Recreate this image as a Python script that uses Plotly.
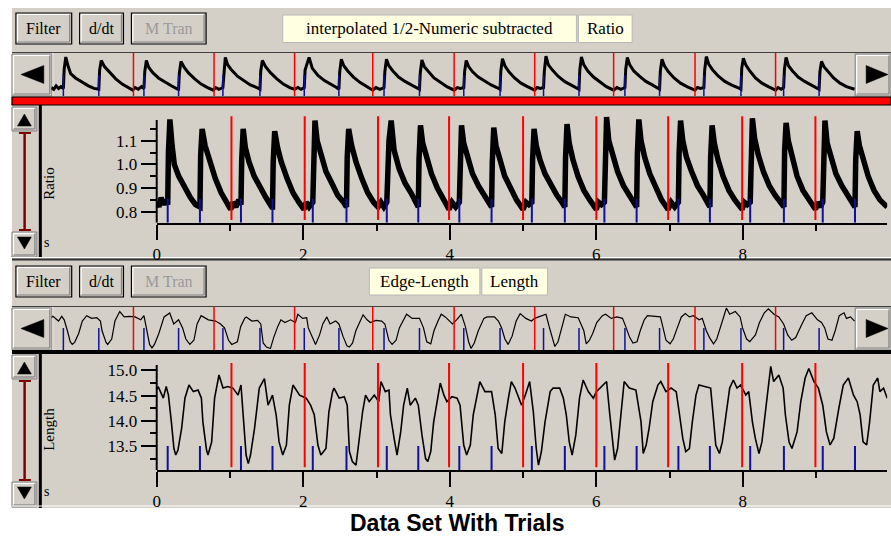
import plotly.graph_objects as go

W, H = 891, 539

# trial boundaries (red) and stimulus markers (blue), seconds
trial_starts = [1.02, 2.02, 3.02, 3.99, 5.00, 6.00, 6.98, 7.99, 8.99]
stim_times = [0.15, 0.59, 1.15, 1.58, 2.13, 2.59, 3.14, 3.57, 4.13, 4.57,
              5.12, 5.57, 6.11, 6.55, 7.12, 7.55, 8.10, 8.56, 9.09, 9.53]

# Ratio trace (interpolated 1/2-Numeric subtracted)
ratio_t = [
    0.00, 0.03, 0.06, 0.09, 0.12, 0.15,
    0.16, 0.18, 0.21, 0.24, 0.30, 0.38, 0.46, 0.53, 0.58,
    0.59, 0.60, 0.62, 0.66, 0.72, 0.80, 0.88, 0.95, 1.01,
    1.04, 1.08, 1.12, 1.15,
    1.16, 1.18, 1.21, 1.26, 1.33, 1.41, 1.49, 1.57,
    1.58, 1.59, 1.61, 1.65, 1.70, 1.78, 1.86, 1.94, 2.01,
    2.04, 2.08, 2.13,
    2.14, 2.16, 2.19, 2.23, 2.31, 2.39, 2.47, 2.55, 2.58,
    2.59, 2.60, 2.62, 2.66, 2.72, 2.80, 2.88, 2.96, 3.02,
    3.06, 3.10, 3.14,
    3.15, 3.17, 3.20, 3.24, 3.31, 3.39, 3.47, 3.54, 3.57,
    3.58, 3.60, 3.63, 3.68, 3.75, 3.83, 3.91, 3.99,
    4.03, 4.08, 4.13,
    4.14, 4.16, 4.19, 4.24, 4.31, 4.39, 4.47, 4.54, 4.57,
    4.58, 4.60, 4.63, 4.68, 4.75, 4.83, 4.91, 5.00,
    5.04, 5.08, 5.12,
    5.13, 5.15, 5.18, 5.23, 5.30, 5.38, 5.46, 5.53, 5.57,
    5.58, 5.60, 5.63, 5.68, 5.75, 5.83, 5.91, 6.00,
    6.03, 6.07, 6.11,
    6.12, 6.14, 6.17, 6.22, 6.29, 6.37, 6.45, 6.52, 6.55,
    6.56, 6.58, 6.61, 6.66, 6.73, 6.81, 6.89, 6.98,
    7.02, 7.07, 7.12,
    7.13, 7.15, 7.18, 7.23, 7.30, 7.38, 7.46, 7.52, 7.55,
    7.56, 7.58, 7.61, 7.66, 7.73, 7.81, 7.89, 7.99,
    8.02, 8.06, 8.10,
    8.11, 8.13, 8.16, 8.21, 8.28, 8.36, 8.44, 8.52, 8.56,
    8.57, 8.59, 8.62, 8.67, 8.74, 8.82, 8.90, 8.99,
    9.02, 9.06, 9.09,
    9.10, 9.12, 9.15, 9.20, 9.27, 9.35, 9.43, 9.50, 9.53,
    9.54, 9.56, 9.59, 9.64, 9.71, 9.79, 9.87, 9.97,
]
ratio_v = [
    0.84, 0.82, 0.86, 0.83, 0.85, 0.83,
    1.05, 1.19, 1.08, 1.00, 0.95, 0.90, 0.86, 0.83, 0.82,
    0.82, 1.04, 1.15, 1.08, 1.02, 0.94, 0.88, 0.84, 0.81,
    0.84, 0.82, 0.85, 0.83,
    1.02, 1.15, 1.07, 1.01, 0.95, 0.90, 0.86, 0.82,
    0.82, 1.01, 1.14, 1.07, 1.01, 0.94, 0.88, 0.84, 0.81,
    0.84, 0.82, 0.84,
    1.00, 1.185, 1.10, 1.05, 0.97, 0.92, 0.87, 0.84, 0.82,
    0.82, 1.03, 1.15, 1.08, 1.01, 0.94, 0.88, 0.84, 0.82,
    0.84, 0.82, 0.84,
    1.04, 1.10, 1.185, 1.06, 0.98, 0.92, 0.88, 0.84, 0.82,
    1.02, 1.165, 1.09, 1.03, 0.96, 0.90, 0.85, 0.81,
    0.84, 0.82, 0.84,
    1.02, 1.165, 1.09, 1.03, 0.96, 0.91, 0.87, 0.84, 0.82,
    1.01, 1.155, 1.08, 1.02, 0.95, 0.90, 0.85, 0.81,
    0.84, 0.83, 0.84,
    1.02, 1.15, 1.08, 1.02, 0.96, 0.91, 0.87, 0.84, 0.82,
    1.03, 1.17, 1.09, 1.02, 0.95, 0.89, 0.85, 0.81,
    0.84, 0.83, 0.84,
    1.03, 1.20, 1.10, 1.04, 0.97, 0.91, 0.87, 0.84, 0.82,
    1.04, 1.19, 1.10, 1.03, 0.96, 0.90, 0.85, 0.81,
    0.84, 0.82, 0.84,
    1.05, 1.185, 1.10, 1.03, 0.97, 0.91, 0.87, 0.84, 0.82,
    1.03, 1.165, 1.09, 1.02, 0.95, 0.89, 0.85, 0.81,
    0.84, 0.83, 0.84,
    1.04, 1.195, 1.11, 1.04, 0.97, 0.91, 0.87, 0.84, 0.82,
    1.06, 1.175, 1.10, 1.03, 0.95, 0.89, 0.85, 0.81,
    0.84, 0.82, 0.84,
    1.05, 1.185, 1.09, 1.03, 0.96, 0.91, 0.87, 0.84, 0.82,
    1.02, 1.14, 1.08, 1.02, 0.95, 0.89, 0.85, 0.82,
]

# Length trace (Edge-Length)
length_t = [
    0.00, 0.02, 0.06, 0.09, 0.13, 0.16, 0.20, 0.235, 0.26, 0.29, 0.34, 0.385,
    0.44, 0.50, 0.565, 0.61, 0.63, 0.68, 0.70, 0.75, 0.79, 0.85, 0.905, 0.97,
    1.04, 1.11, 1.15, 1.19, 1.22, 1.25, 1.28, 1.335, 1.40, 1.47, 1.52, 1.58,
    1.63, 1.67, 1.72, 1.77, 1.81, 1.86, 1.95, 2.04, 2.10, 2.15, 2.20, 2.24,
    2.31, 2.35, 2.40, 2.42, 2.49, 2.56, 2.60, 2.63, 2.67, 2.72, 2.76, 2.81,
    2.85, 2.90, 2.97, 3.03, 3.06, 3.12, 3.17, 3.19, 3.24, 3.28, 3.33, 3.37,
    3.42, 3.46, 3.53, 3.57, 3.62, 3.67, 3.70, 3.74, 3.78, 3.83, 3.87, 3.92,
    3.96, 4.03, 4.10, 4.14, 4.19, 4.23, 4.28, 4.32, 4.37, 4.41, 4.48, 4.57,
    4.62, 4.66, 4.71, 4.75, 4.80, 4.84, 4.89, 4.94, 4.98, 5.03, 5.09, 5.14,
    5.18, 5.21, 5.25, 5.30, 5.37, 5.41, 5.50, 5.55, 5.59, 5.63, 5.67, 5.72,
    5.77, 5.82, 5.89, 5.96, 6.00, 6.05, 6.14, 6.18, 6.23, 6.25, 6.29, 6.34,
    6.38, 6.45, 6.54, 6.61, 6.64, 6.68, 6.72, 6.77, 6.84, 6.88, 6.95, 7.02,
    7.09, 7.13, 7.18, 7.22, 7.27, 7.31, 7.36, 7.40, 7.49, 7.56, 7.59, 7.63,
    7.68, 7.72, 7.77, 7.82, 7.87, 7.92, 7.97, 8.04, 8.08, 8.13, 8.17, 8.22,
    8.26, 8.32, 8.38, 8.42, 8.49, 8.55, 8.58, 8.63, 8.67, 8.74, 8.79, 8.85,
    8.90, 8.97, 9.03, 9.09, 9.14, 9.19, 9.24, 9.31, 9.37, 9.44, 9.51, 9.56,
    9.60, 9.64, 9.69, 9.73, 9.78, 9.84, 9.87, 9.92, 9.97,
]
length_v = [
    14.62, 14.68, 14.55, 14.45, 14.68, 14.51, 13.98, 13.45, 13.32, 13.42, 13.85, 14.45,
    14.71, 14.58, 14.61, 14.45, 13.98, 13.42, 13.32, 13.58, 14.45, 14.91, 14.65, 14.68,
    14.65, 14.51, 14.71, 13.98, 13.32, 13.15, 13.32, 13.85, 14.65, 14.84, 14.31, 14.51,
    14.12, 13.58, 13.32, 13.52, 14.31, 14.71, 14.51, 14.45, 14.31, 14.12, 13.52, 13.32,
    13.45, 14.18, 14.58, 14.65, 14.45, 14.48, 14.31, 13.39, 13.19, 13.12, 13.65, 14.18,
    14.51, 14.38, 14.51, 14.38, 14.78, 14.58, 14.61, 14.12, 13.65, 13.32, 13.78, 14.31,
    14.65, 14.31, 14.45, 14.31, 13.72, 13.25, 13.19, 13.39, 13.98, 14.38, 14.75, 14.51,
    14.38, 14.48, 14.45, 14.31, 13.52, 13.32, 13.52, 14.12, 14.51, 14.78, 14.58, 14.58,
    14.12, 13.45, 13.35, 13.98, 14.45, 14.78, 14.65, 14.45, 14.31, 14.51, 14.78, 14.18,
    13.45, 13.12, 13.39, 13.98, 14.58, 14.65, 14.65, 14.45, 14.12, 13.58, 13.32, 13.72,
    14.45, 14.81, 14.58, 14.45, 14.58, 14.65, 14.78, 14.18, 13.45, 13.22, 13.45, 14.12,
    14.78, 14.65, 14.61, 13.98, 13.35, 13.52, 13.85, 14.38, 14.71, 14.78, 14.58, 14.65,
    14.58, 14.18, 13.65, 13.39, 13.45, 13.98, 14.51, 14.71, 14.68, 14.65, 14.18, 13.52,
    13.35, 13.58, 14.12, 14.65, 14.81, 14.65, 14.71, 14.51, 14.58, 13.98, 13.65, 13.35,
    13.58, 14.31, 15.08, 14.78, 14.91, 14.65, 14.12, 13.58, 13.45, 13.78, 14.38, 14.85,
    15.04, 14.78, 14.65, 14.31, 13.78, 13.52, 13.65, 14.25, 14.71, 14.85, 14.51, 14.38,
    14.12, 13.58, 13.52, 13.98, 14.71, 14.85, 14.58, 14.65, 14.45,
]

ratio_ticks = [0.8, 0.9, 1.0, 1.1]
ratio_ticktext = ["0.8", "0.9", "1.0", "1.1"]
length_ticks = [13.5, 14.0, 14.5, 15.0]
length_ticktext = ["13.5", "14.0", "14.5", "15.0"]
time_ticks = [0, 2, 4, 6, 8]

GRAY = "#d4d0c8"
DARK = "#808080"
BLUE = "#10109a"
RED = "#ff0000"
SERIF = "Liberation Serif"


def X(px):
    return px / W


def Y(py):
    return 1 - py / H


def segments(times, y0, y1):
    xs, ys = [], []
    for t in times:
        xs += [t, t, None]
        ys += [y0, y1, None]
    return xs, ys


fig = go.Figure()

# main plots
fig.add_trace(go.Scatter(x=ratio_t, y=ratio_v, mode="lines",
                         line=dict(color="black", width=5.5), xaxis="x", yaxis="y"))
bx, by = segments(stim_times, 0.7535, 0.855)
fig.add_trace(go.Scatter(x=bx, y=by, mode="lines", line=dict(color=BLUE, width=2),
                         xaxis="x", yaxis="y"))
rx, ry = segments(trial_starts, 0.765, 1.203)
fig.add_trace(go.Scatter(x=rx, y=ry, mode="lines", line=dict(color=RED, width=2),
                         xaxis="x", yaxis="y"))

fig.add_trace(go.Scatter(x=length_t, y=length_v, mode="lines",
                         line=dict(color="black", width=1.6), xaxis="x2", yaxis="y2"))
bx, by = segments(stim_times, 13.023, 13.5)
fig.add_trace(go.Scatter(x=bx, y=by, mode="lines", line=dict(color=BLUE, width=2),
                         xaxis="x2", yaxis="y2"))
rx, ry = segments(trial_starts, 13.08, 15.15)
fig.add_trace(go.Scatter(x=rx, y=ry, mode="lines", line=dict(color=RED, width=2),
                         xaxis="x2", yaxis="y2"))

# overview strips
fig.add_trace(go.Scatter(x=ratio_t, y=ratio_v, mode="lines",
                         line=dict(color="black", width=3), xaxis="x3", yaxis="y3"))
bx, by = segments(stim_times, 0.743, 0.98)
fig.add_trace(go.Scatter(x=bx, y=by, mode="lines", line=dict(color=BLUE, width=1.5),
                         xaxis="x3", yaxis="y3"))
rx, ry = segments(trial_starts, 0.743, 1.236)
fig.add_trace(go.Scatter(x=rx, y=ry, mode="lines", line=dict(color=RED, width=1.5),
                         xaxis="x3", yaxis="y3"))

fig.add_trace(go.Scatter(x=length_t, y=length_v, mode="lines",
                         line=dict(color="black", width=1.2), xaxis="x4", yaxis="y4"))
bx, by = segments(stim_times, 13.05, 14.12)
fig.add_trace(go.Scatter(x=bx, y=by, mode="lines", line=dict(color=BLUE, width=1.5),
                         xaxis="x4", yaxis="y4"))
rx, ry = segments(trial_starts, 13.05, 15.13)
fig.add_trace(go.Scatter(x=rx, y=ry, mode="lines", line=dict(color=RED, width=1.5),
                         xaxis="x4", yaxis="y4"))

tickfont = dict(family=SERIF, size=17, color="black")
xcommon = dict(range=[0, 9.97], domain=[X(153.4), X(887.2)], showgrid=False, zeroline=False,
               showline=True, linecolor="black", linewidth=2, ticks="outside", ticklen=15,
               tickwidth=1.5, tickcolor="black", tickvals=time_ticks, tickfont=tickfont,
               minor=dict(tickvals=[1, 3, 5, 7, 9], ticks="outside", ticklen=6,
                          tickwidth=1.5, tickcolor="black", showgrid=False))
ycommon = dict(showgrid=False, zeroline=False, showline=False, ticks="outside", ticklen=15,
               tickwidth=1.5, tickcolor="black", tickfont=tickfont)

fig.update_layout(
    width=W, height=H, margin=dict(l=0, r=0, t=0, b=0),
    paper_bgcolor="white", plot_bgcolor="rgba(0,0,0,0)", showlegend=False,
    xaxis=dict(anchor="y", **xcommon),
    yaxis=dict(anchor="x", range=[0.7535, 1.215], domain=[Y(222.7), Y(113.5)],
               tickvals=ratio_ticks, ticktext=ratio_ticktext,
               minor=dict(tickvals=[0.85, 0.95, 1.05, 1.15], ticks="outside", ticklen=6,
                          tickwidth=1.5, tickcolor="black", showgrid=False),
               **ycommon),
    xaxis2=dict(anchor="y2", **xcommon),
    yaxis2=dict(anchor="x2", range=[13.023, 15.17], domain=[Y(470), Y(361.9)],
                tickvals=length_ticks, ticktext=length_ticktext,
                minor=dict(tickvals=[13.25, 13.75, 14.25, 14.75], ticks="outside", ticklen=6,
                           tickwidth=1.5, tickcolor="black", showgrid=False),
                **ycommon),
    xaxis3=dict(anchor="y3", range=[0, 10], domain=[X(47.5), X(856.8)], visible=False),
    yaxis3=dict(anchor="x3", range=[0.743, 1.236], domain=[Y(96), Y(53)], visible=False),
    xaxis4=dict(anchor="y4", range=[0, 10], domain=[X(47.5), X(856.8)], visible=False),
    yaxis4=dict(anchor="x4", range=[13.05, 15.13], domain=[Y(350), Y(307)], visible=False),
)

shapes = []


def rect(x0, y0, x1, y1, fill, line="rgba(0,0,0,0)", lw=0, layer="below"):
    shapes.append(dict(type="rect", xref="paper", yref="paper", x0=X(x0), x1=X(x1),
                       y0=Y(y0), y1=Y(y1), fillcolor=fill, line=dict(color=line, width=lw),
                       layer=layer))


def line(x0, y0, x1, y1, color, lw, layer="below"):
    shapes.append(dict(type="line", xref="paper", yref="paper", x0=X(x0), x1=X(x1),
                       y0=Y(y0), y1=Y(y1), line=dict(color=color, width=lw), layer=layer))


def tri(pts, color="black"):
    d = "M " + " L ".join(f"{X(a):.5f},{Y(b):.5f}" for a, b in pts) + " Z"
    shapes.append(dict(type="path", xref="paper", yref="paper", path=d, fillcolor=color,
                       line=dict(color=color, width=0.5), layer="above"))


def raised(x0, y0, x1, y1, border=True):
    rect(x0, y0, x1, y1, GRAY, "black" if border else DARK, 1.2 if border else 1)
    line(x0 + 1.5, y0 + 1.5, x1 - 2, y0 + 1.5, "white", 1.2)
    line(x0 + 1.5, y0 + 1.5, x0 + 1.5, y1 - 2, "white", 1.2)
    line(x0 + 1.5, y1 - 2, x1 - 2, y1 - 2, DARK, 1.2)
    line(x1 - 2, y0 + 1.5, x1 - 2, y1 - 2, DARK, 1.2)


# panel background
rect(8, 8, 891, 508, GRAY)

annotations = []


def text(x, y, s, size=16, color="black", family=SERIF, angle=0):
    annotations.append(dict(x=X(x), y=Y(y), xref="paper", yref="paper", text=s,
                            showarrow=False, xanchor="center", yanchor="middle",
                            textangle=angle, font=dict(family=family, size=size, color=color)))


for top in (13, 266):
    bot = top + 31
    raised(12, top, 68, bot)
    raised(76, top, 120, bot)
    raised(128, top, 203, bot)
    mid = (top + bot) / 2
    text(40, mid, "Filter")
    text(98, mid, "d/dt")
    text(165.5, mid, "M Tran", color="#9a9a9a")

# name labels
rect(280, 15, 575, 42.5, "#ffffe1", "#b8b8b8", 1)
rect(577, 15, 631, 42.5, "#ffffe1", "#b8b8b8", 1)
text(427.5, 28.5, "interpolated 1/2-Numeric subtracted", size=17)
text(604, 28.5, "Ratio", size=17)
rect(367, 268, 478, 295, "#ffffe1", "#b8b8b8", 1)
rect(480, 268, 546, 295, "#ffffe1", "#b8b8b8", 1)
text(422.5, 281.5, "Edge-Length", size=17)
text(513, 281.5, "Length", size=17)

# overview strips with scroll arrows
for top, bot in ((53, 96), (307, 350)):
    line(8, top - 0.5, 891, top - 0.5, "#404040", 1.2)
    line(49, top, 49, bot, "white", 1)
    raised(8, top + 1, 48, bot, border=False)
    raised(855, top + 1, 891, bot, border=False)
    mid = (top + bot) / 2
    tri([(17, mid), (40, mid - 9), (40, mid + 9)])
    tri([(866, mid - 9), (866, mid + 9), (888, mid)])

# red bar under the Ratio overview, black bar under the Length overview
rect(8, 97, 891, 105, RED, "black", 1.2)
rect(8, 350, 891, 354, "black")

# vertical scroll widgets on the left of each main plot
for top, bot in ((106, 257), (354, 507)):
    raised(8, top + 1, 33, top + 25, border=False)
    raised(8, bot - 25, 33, bot, border=False)
    tri([(13.5, top + 20), (27.5, top + 20), (20.5, top + 8)])
    tri([(13.5, bot - 20), (27.5, bot - 20), (20.5, bot - 8)])
    line(20.7, top + 27, 20.7, bot - 27, "#800000", 2.5, layer="above")
    line(15, top + 27, 27, top + 27, "#800000", 2, layer="above")
    line(15, bot - 27, 27, bot - 27, "#800000", 2, layer="above")
    line(36.5, top - 1, 36.5, bot + 1, "black", 3)

line(8, 257.5, 891, 257.5, "white", 1)
line(8, 259.5, 891, 259.5, "#303030", 2)
line(8, 506, 891, 506, "white", 1)

# y-axis lines only span the labelled range
shapes.append(dict(type="line", xref="paper", yref="y", x0=X(153.4), x1=X(153.4),
                   y0=0.7535, y1=1.1875, line=dict(color="black", width=2), layer="above"))
shapes.append(dict(type="line", xref="paper", yref="y2", x0=X(153.4), x1=X(153.4),
                   y0=13.023, y1=15.109, line=dict(color="black", width=2), layer="above"))

text(45, 183, "Ratio", size=15, angle=-90)
text(45, 429, "Length", size=15, angle=-90)
text(43, 242, "s", size=14)
text(43, 491, "s", size=14)

text(456, 523, "<b>Data Set With Trials</b>", size=23, family="Liberation Sans")

fig.update_layout(shapes=shapes, annotations=annotations)

fig.write_html(
    "out.html",
    config={"displayModeBar": False},
    post_script="document.body.style.margin='0';document.body.style.overflow='hidden';",
)
